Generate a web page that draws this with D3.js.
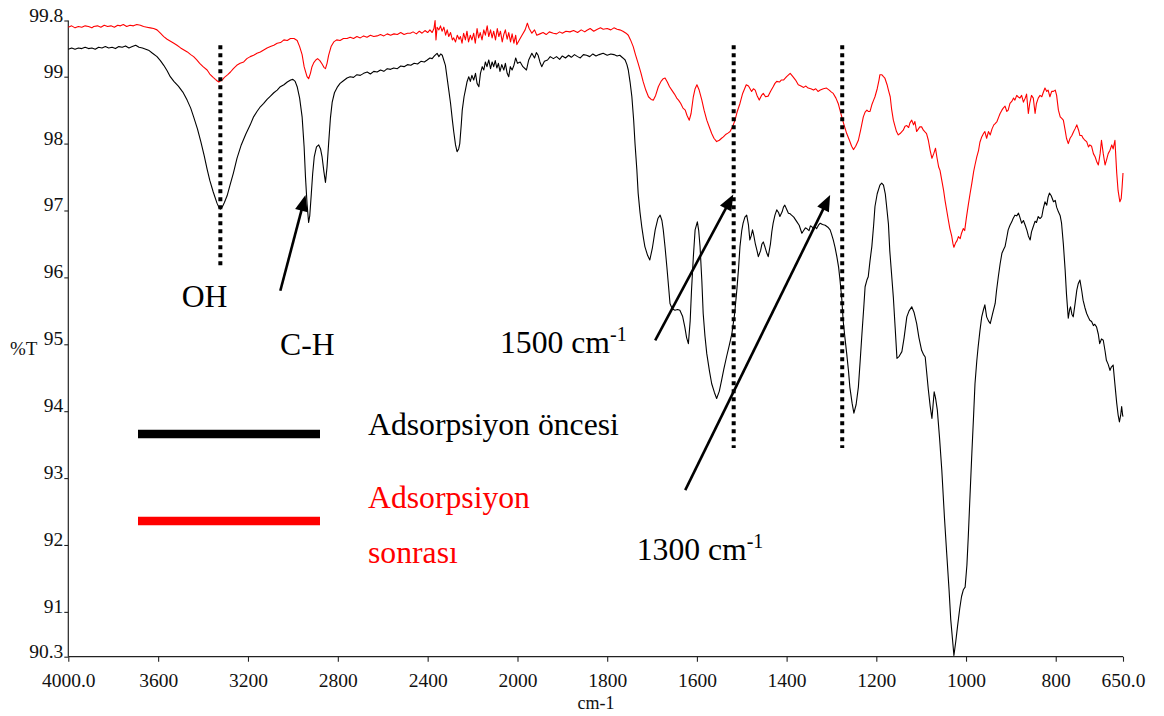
<!DOCTYPE html>
<html>
<head>
<meta charset="utf-8">
<script src="https://cdn.jsdelivr.net/npm/d3@7"></script>
<style>
  body { margin: 0; background: #fff; }
  svg { display: block; }
  text { font-family: "Liberation Serif", "Times New Roman", serif; }
</style>
</head>
<body>
<svg id="chart" width="1164" height="716"></svg>
<script>
// Abscissa: wavenumber axis with a 2x expansion below 2000 cm-1
const xBreaks = [4000, 2000, 650];
const xTickValues = [4000, 3600, 3200, 2800, 2400, 2000, 1800, 1600, 1400, 1200, 1000, 800, 650];
const xTickLabels = ["4000.0", "3600", "3200", "2800", "2400", "2000", "1800", "1600", "1400", "1200", "1000", "800", "650.0"];

// Ordinate: transmittance (%T)
const yDomain = [90.33, 99.84];
const yTickValues = [90.33, 91, 92, 93, 94, 95, 96, 97, 98, 99, 99.84];
const yTickLabels = ["90.3", "91", "92", "93", "94", "95", "96", "97", "98", "99", "99.8"];

// Spectrum before adsorption: [wavenumber, %T]
const before = [
  [4000,99.41],[3985,99.43],[3970,99.41],[3955,99.43],[3940,99.42],[3925,99.44],[3910,99.42],[3895,99.43],
  [3880,99.41],[3865,99.44],[3850,99.43],[3835,99.45],[3820,99.43],[3805,99.44],[3790,99.42],[3775,99.45],
  [3760,99.44],[3745,99.46],[3730,99.43],[3715,99.45],[3700,99.47],[3685,99.44],[3670,99.43],[3655,99.41],
  [3640,99.39],[3625,99.35],[3605,99.30],[3590,99.24],[3575,99.17],[3560,99.09],[3546,99.00],[3530,98.93],
  [3510,98.86],[3490,98.77],[3471,98.65],[3455,98.53],[3442,98.40],[3425,98.22],[3410,98.03],[3395,97.82],
  [3382,97.62],[3370,97.45],[3355,97.28],[3338,97.11],[3330,97.05],[3323,97.02],[3315,97.05],[3305,97.12],
  [3293,97.22],[3280,97.38],[3265,97.56],[3249,97.78],[3230,97.98],[3210,98.14],[3190,98.28],[3175,98.40],
  [3160,98.48],[3145,98.55],[3130,98.60],[3115,98.66],[3100,98.71],[3085,98.76],[3070,98.80],[3056,98.85],
  [3040,98.88],[3025,98.92],[3010,98.95],[3000,98.96],[2990,98.93],[2981,98.85],[2970,98.68],[2959,98.40],
  [2950,97.95],[2944,97.50],[2937,97.10],[2930,96.82],[2925,96.92],[2918,97.25],[2912,97.55],[2905,97.80],
  [2895,97.95],[2885,97.98],[2877,97.92],[2870,97.80],[2862,97.58],[2855,97.42],[2848,97.65],[2841,98.00],
  [2833,98.38],[2825,98.62],[2815,98.76],[2803,98.84],[2790,98.90],[2775,98.94],[2759,98.98],[2745,99.00],
  [2730,98.99],[2715,99.03],[2700,99.02],[2685,99.05],[2669,99.07],[2655,99.04],[2640,99.08],[2625,99.07],
  [2610,99.10],[2595,99.08],[2580,99.12],[2565,99.11],[2551,99.13],[2535,99.12],[2520,99.16],[2505,99.15],
  [2490,99.18],[2475,99.17],[2460,99.20],[2445,99.19],[2430,99.23],[2415,99.22],[2402,99.25],[2390,99.28],
  [2380,99.27],[2370,99.31],[2358,99.35],[2350,99.30],[2342,99.34],[2335,99.32],[2321,99.17],[2306,98.80],
  [2298,98.60],[2290,98.35],[2284,98.18],[2276,97.98],[2269,97.88],[2262,97.92],[2257,98.00],[2250,98.30],
  [2246,98.50],[2238,98.70],[2232,98.80],[2225,98.92],[2217,99.00],[2210,98.93],[2203,99.02],[2195,98.95],
  [2187,99.05],[2180,98.90],[2172,98.85],[2165,99.05],[2157,99.15],[2150,99.10],[2143,99.22],[2136,99.15],
  [2128,99.25],[2120,99.12],[2113,99.22],[2106,99.15],[2099,99.24],[2092,99.13],[2085,99.20],[2078,99.08],
  [2070,99.18],[2061,99.10],[2054,99.20],[2046,99.05],[2039,99.00],[2032,99.15],[2024,99.10],[2016,99.17],
  [2008,99.28],[2000,99.20],[1994,99.22],[1988,99.15],[1980,99.10],[1975,99.25],[1968,99.35],[1962,99.28],
  [1958,99.36],[1954,99.32],[1950,99.22],[1946,99.15],[1940,99.23],[1933,99.25],[1927,99.30],[1920,99.27],
  [1913,99.30],[1906,99.26],[1900,99.31],[1893,99.28],[1886,99.32],[1880,99.29],[1873,99.33],[1866,99.30],
  [1860,99.28],[1853,99.33],[1846,99.32],[1839,99.30],[1832,99.34],[1825,99.31],[1818,99.33],[1809,99.35],
  [1800,99.32],[1792,99.34],[1785,99.33],[1778,99.31],[1772,99.32],[1765,99.28],[1760,99.25],[1756,99.18],
  [1753,99.10],[1749,98.92],[1745,98.70],[1741,98.35],[1738,98.00],[1734,97.62],[1731,97.26],[1727,96.98],
  [1723,96.76],[1719,96.58],[1716,96.46],[1710,96.33],[1705,96.26],[1699,96.45],[1693,96.71],[1687,96.88],
  [1682,96.93],[1678,96.85],[1675,96.71],[1671,96.45],[1667,96.16],[1663,95.85],[1660,95.61],[1655,95.53],
  [1649,95.51],[1643,95.52],[1638,95.51],[1632,95.42],[1627,95.26],[1623,95.10],[1619,95.01],[1615,95.35],
  [1612,95.81],[1608,96.30],[1604,96.71],[1599,96.83],[1596,96.70],[1593,96.46],[1589,95.95],[1586,95.46],
  [1582,95.12],[1578,94.86],[1572,94.60],[1567,94.41],[1561,94.28],[1556,94.19],[1550,94.30],[1545,94.46],
  [1540,94.63],[1534,94.81],[1528,94.98],[1522,95.16],[1516,95.45],[1511,95.81],[1507,96.15],[1504,96.46],
  [1500,96.70],[1497,96.81],[1493,96.90],[1489,96.93],[1485,96.78],[1482,96.56],[1479,96.62],[1476,96.71],
  [1473,96.62],[1470,96.51],[1466,96.40],[1463,96.31],[1458,96.40],[1455,96.50],[1452,96.53],[1448,96.45],
  [1444,96.36],[1441,96.31],[1436,96.50],[1433,96.68],[1430,96.81],[1426,96.93],[1422,97.01],[1418,96.97],
  [1415,96.91],[1410,96.98],[1407,97.05],[1404,97.08],[1400,97.02],[1396,96.96],[1392,96.95],[1389,96.93],
  [1384,96.90],[1380,96.86],[1377,96.83],[1372,96.78],[1366,96.66],[1362,96.70],[1358,96.74],[1355,96.73],
  [1350,96.70],[1347,96.77],[1344,96.76],[1340,96.72],[1336,96.75],[1333,96.73],[1329,96.78],[1325,96.81],
  [1320,96.79],[1314,96.78],[1308,96.75],[1303,96.71],[1300,96.65],[1296,96.56],[1292,96.45],[1288,96.31],
  [1284,96.15],[1281,95.96],[1277,95.68],[1274,95.36],[1270,95.10],[1266,94.86],[1262,94.60],[1259,94.36],
  [1254,94.12],[1250,93.97],[1245,94.10],[1240,94.36],[1236,94.75],[1232,95.16],[1228,95.55],[1225,95.86],
  [1221,95.96],[1218,96.01],[1214,96.25],[1210,96.46],[1206,96.78],[1203,97.06],[1198,97.25],[1192,97.38],
  [1188,97.41],[1184,97.38],[1180,97.25],[1177,97.06],[1173,96.80],[1170,96.40],[1166,96.05],[1162,95.70],
  [1158,95.25],[1154,94.79],[1149,94.82],[1143,94.89],[1138,95.10],[1132,95.41],[1127,95.50],[1121,95.56],
  [1116,95.48],[1110,95.31],[1105,95.10],[1099,94.91],[1095,94.85],[1091,94.81],[1088,94.60],[1084,94.32],
  [1080,94.08],[1076,93.89],[1074,94.05],[1071,94.29],[1068,94.20],[1064,94.02],[1059,93.60],[1054,93.12],
  [1048,92.40],[1043,91.87],[1038,91.35],[1034,90.88],[1030,90.58],[1027,90.35],[1023,90.55],[1019,90.78],
  [1014,91.05],[1010,91.23],[1006,91.33],[1002,91.37],[998,91.70],[995,92.12],[991,92.75],[987,93.37],
  [983,93.95],[980,94.41],[976,94.75],[973,94.96],[969,95.20],[965,95.41],[961,95.52],[958,95.59],
  [954,95.41],[950,95.35],[946,95.31],[941,95.45],[935,95.61],[932,95.80],[928,96.01],[924,96.20],
  [920,96.36],[916,96.42],[913,96.46],[909,96.60],[906,96.71],[902,96.78],[898,96.83],[895,96.88],
  [891,96.93],[887,96.92],[883,96.96],[880,96.90],[876,96.81],[872,96.85],[868,96.78],[864,96.70],
  [861,96.62],[857,96.56],[854,96.68],[850,96.76],[846,96.84],[843,96.82],[839,96.91],[835,96.88],
  [831,96.91],[828,97.02],[824,97.13],[820,97.08],[817,97.20],[814,97.26],[810,97.22],[805,97.13],
  [801,97.15],[798,97.05],[794,96.98],[790,96.92],[787,96.81],[783,96.50],[779,96.11],[776,95.75],
  [772,95.39],[769,95.52],[767,95.56],[764,95.45],[761,95.41],[757,95.60],[753,95.81],[750,95.90],
  [746,95.96],[742,95.80],[739,95.66],[735,95.55],[731,95.46],[727,95.40],[724,95.36],[720,95.34],
  [716,95.28],[713,95.30],[709,95.26],[705,95.15],[702,95.01],[698,95.08],[694,95.06],[690,94.90],
  [687,94.76],[683,94.70],[679,94.61],[676,94.66],[672,94.69],[668,94.40],[664,94.12],[661,93.95],
  [658,93.84],[655,93.95],[653,94.07],[651,93.95],[650,93.92]
];

// Spectrum after adsorption: [wavenumber, %T]
const after = [
  [4000,99.74],[3985,99.76],[3970,99.73],[3955,99.75],[3940,99.74],[3925,99.76],[3910,99.75],[3895,99.73],
  [3887,99.75],[3870,99.76],[3855,99.74],[3840,99.77],[3825,99.75],[3810,99.76],[3795,99.74],[3780,99.77],
  [3768,99.76],[3755,99.78],[3740,99.75],[3725,99.77],[3710,99.76],[3695,99.78],[3679,99.77],[3665,99.75],
  [3650,99.74],[3635,99.73],[3620,99.72],[3605,99.70],[3590,99.65],[3575,99.60],[3560,99.56],[3545,99.53],
  [3530,99.50],[3516,99.47],[3500,99.43],[3485,99.40],[3470,99.37],[3455,99.33],[3442,99.30],[3428,99.25],
  [3415,99.20],[3400,99.15],[3382,99.10],[3370,99.04],[3355,98.99],[3345,98.96],[3338,98.94],[3330,98.92],
  [3322,98.94],[3315,98.95],[3305,98.99],[3290,99.03],[3278,99.07],[3265,99.12],[3250,99.17],[3235,99.20],
  [3219,99.22],[3205,99.27],[3190,99.30],[3175,99.32],[3160,99.35],[3145,99.37],[3130,99.40],[3115,99.43],
  [3100,99.45],[3085,99.47],[3070,99.50],[3055,99.51],[3040,99.55],[3025,99.54],[3011,99.57],[2995,99.57],
  [2981,99.54],[2970,99.45],[2959,99.33],[2950,99.15],[2944,99.08],[2937,99.00],[2930,98.97],[2922,99.05],
  [2915,99.15],[2907,99.21],[2898,99.25],[2890,99.27],[2880,99.24],[2870,99.19],[2862,99.14],[2855,99.12],
  [2848,99.20],[2841,99.32],[2830,99.45],[2818,99.52],[2805,99.55],[2790,99.54],[2775,99.57],[2759,99.57],
  [2745,99.59],[2730,99.57],[2715,99.60],[2700,99.58],[2685,99.61],[2670,99.59],[2655,99.62],[2640,99.60],
  [2625,99.61],[2610,99.63],[2595,99.61],[2580,99.64],[2565,99.62],[2550,99.64],[2535,99.63],[2520,99.66],
  [2505,99.63],[2490,99.65],[2477,99.65],[2465,99.67],[2450,99.64],[2437,99.68],[2425,99.65],[2412,99.69],
  [2400,99.66],[2390,99.70],[2380,99.66],[2372,99.72],[2367,99.84],[2363,99.55],[2358,99.74],[2350,99.70],
  [2343,99.76],[2336,99.68],[2328,99.74],[2320,99.62],[2313,99.70],[2306,99.60],[2298,99.66],[2290,99.55],
  [2284,99.58],[2276,99.52],[2268,99.62],[2260,99.56],[2254,99.60],[2247,99.50],[2240,99.65],[2232,99.55],
  [2225,99.68],[2218,99.52],[2210,99.62],[2203,99.55],[2195,99.65],[2188,99.50],[2180,99.72],[2173,99.58],
  [2166,99.66],[2158,99.55],[2150,99.70],[2143,99.62],[2135,99.76],[2128,99.60],[2120,99.70],[2113,99.58],
  [2106,99.68],[2098,99.55],[2090,99.72],[2083,99.60],[2076,99.68],[2068,99.52],[2061,99.63],[2054,99.70],
  [2046,99.56],[2039,99.66],[2031,99.52],[2024,99.64],[2016,99.50],[2008,99.62],[2003,99.48],[1996,99.55],
  [1990,99.62],[1983,99.70],[1978,99.80],[1974,99.72],[1968,99.65],[1962,99.70],[1957,99.62],[1950,99.64],
  [1943,99.66],[1936,99.63],[1929,99.67],[1920,99.65],[1913,99.64],[1906,99.67],[1900,99.65],[1892,99.68],
  [1883,99.67],[1875,99.69],[1866,99.66],[1858,99.70],[1850,99.67],[1846,99.69],[1838,99.72],[1830,99.68],
  [1822,99.71],[1815,99.73],[1809,99.71],[1800,99.72],[1792,99.70],[1785,99.73],[1778,99.71],[1772,99.70],
  [1765,99.68],[1758,99.65],[1753,99.62],[1748,99.55],[1742,99.45],[1737,99.33],[1731,99.20],[1725,99.06],
  [1720,98.93],[1714,98.80],[1708,98.70],[1702,98.66],[1697,98.65],[1692,98.72],[1686,98.85],[1680,98.93],
  [1675,98.97],[1671,98.98],[1666,98.92],[1661,98.85],[1656,98.80],[1650,98.74],[1645,98.68],[1641,98.65],
  [1636,98.60],[1631,98.53],[1626,98.50],[1622,98.42],[1617,98.35],[1613,98.45],[1608,98.70],[1604,98.82],
  [1600,98.88],[1595,98.80],[1589,98.65],[1584,98.50],[1578,98.35],[1572,98.24],[1567,98.15],[1562,98.08],
  [1556,98.03],[1550,98.05],[1545,98.08],[1541,98.10],[1535,98.14],[1530,98.16],[1526,98.18],[1520,98.26],
  [1515,98.35],[1510,98.48],[1504,98.60],[1498,98.75],[1490,98.88],[1485,98.86],[1478,98.78],[1474,98.82],
  [1470,98.80],[1466,98.72],[1461,98.65],[1456,98.72],[1452,98.75],[1447,98.70],[1441,98.71],[1436,98.78],
  [1430,98.85],[1426,98.90],[1422,98.93],[1416,98.92],[1412,98.95],[1407,98.95],[1400,99.00],[1392,99.05],
  [1386,99.00],[1380,98.95],[1374,98.88],[1368,98.86],[1362,98.84],[1357,98.86],[1352,98.83],[1346,98.82],
  [1340,98.80],[1335,98.82],[1330,98.78],[1325,98.80],[1318,98.82],[1311,98.83],[1305,98.80],[1300,98.77],
  [1296,98.75],[1290,98.68],[1285,98.60],[1281,98.50],[1277,98.40],[1272,98.28],[1266,98.15],[1260,98.05],
  [1255,97.96],[1251,97.91],[1246,97.96],[1240,98.05],[1235,98.20],[1229,98.40],[1225,98.47],[1221,98.50],
  [1218,98.48],[1214,98.48],[1210,98.58],[1206,98.65],[1203,98.70],[1198,98.82],[1194,98.95],[1192,99.03],
  [1188,99.03],[1184,99.00],[1181,98.98],[1176,98.88],[1173,98.80],[1169,98.70],[1166,98.52],[1162,98.35],
  [1158,98.25],[1155,98.18],[1151,98.13],[1147,98.15],[1143,98.18],[1140,98.20],[1136,98.26],[1132,98.27],
  [1128,98.24],[1125,98.31],[1121,98.35],[1117,98.28],[1114,98.33],[1110,98.18],[1106,98.22],[1103,98.25],
  [1099,98.25],[1095,98.20],[1091,98.17],[1088,98.15],[1084,98.05],[1080,97.90],[1076,97.78],[1072,97.85],
  [1068,97.93],[1065,97.80],[1061,97.65],[1058,97.60],[1054,97.45],[1050,97.30],[1047,97.16],[1043,97.00],
  [1040,96.88],[1036,96.73],[1032,96.62],[1029,96.50],[1027,96.45],[1023,96.52],[1020,96.55],[1017,96.61],
  [1013,96.58],[1010,96.66],[1006,96.73],[1003,96.70],[999,96.90],[995,97.08],[991,97.25],[987,97.41],
  [983,97.58],[980,97.68],[976,97.80],[972,97.90],[969,98.02],[965,98.10],[961,98.15],[958,98.18],
  [954,98.08],[950,98.18],[946,98.13],[942,98.22],[938,98.28],[935,98.30],[931,98.33],[927,98.40],
  [924,98.45],[920,98.50],[917,98.53],[913,98.56],[909,98.48],[906,98.50],[902,98.60],[898,98.63],
  [894,98.68],[891,98.65],[887,98.72],[884,98.70],[880,98.68],[876,98.72],[872,98.62],[868,98.68],
  [865,98.74],[861,98.45],[858,98.60],[854,98.72],[850,98.68],[846,98.45],[843,98.60],[839,98.68],
  [835,98.72],[831,98.70],[828,98.76],[824,98.83],[820,98.78],[817,98.80],[813,98.70],[809,98.78],
  [805,98.78],[801,98.80],[798,98.72],[794,98.50],[790,98.40],[787,98.38],[783,98.35],[779,98.20],
  [776,98.08],[772,98.00],[768,98.08],[764,98.12],[760,98.18],[757,98.22],[753,98.28],[749,98.20],
  [746,98.12],[742,98.12],[739,98.08],[735,98.05],[731,98.03],[727,97.95],[724,97.98],[720,97.96],
  [716,97.85],[712,97.80],[708,97.72],[705,97.68],[701,97.85],[698,98.05],[694,97.85],[690,97.68],
  [687,97.75],[683,97.85],[679,97.90],[675,97.98],[672,97.92],[668,98.05],[664,97.56],[661,97.30],
  [657,97.13],[654,97.18],[652,97.35],[650,97.56]
];

// Dotted guide lines: wavenumber, top and bottom in %T
const guideWn = [3323, 1518, 1276];
const guideTop = [99.47, 99.47, 99.47];
const guideBottom = [96.18, 93.45, 93.45];

// Annotation arrows: tail and tip as [wavenumber, %T]
const arrowTail = [[3056, 95.80], [1693, 95.06], [1626, 92.82]];
const arrowTip = [[2944, 97.23], [1519, 97.24], [1303, 97.23]];

const svg = d3.select("#chart");

const x = d3.scaleLinear().domain(xBreaks).range([68.3, 517.5, 1123]);
const y = d3.scaleLinear().domain(yDomain).range([656.7, 20.5]);

// Axes
const xAxis = d3.axisBottom(x)
  .tickValues(xTickValues)
  .tickFormat((d, i) => xTickLabels[i])
  .tickSize(5)
  .tickPadding(4);
const yAxis = d3.axisLeft(y)
  .tickValues(yTickValues)
  .tickFormat((d, i) => yTickLabels[i])
  .tickSize(4)
  .tickPadding(4);

const gx = svg.append("g").attr("transform", "translate(0,656.7)").call(xAxis);
gx.select(".domain").attr("d", `M${x(4000)},0H${x(650)}`).attr("stroke", "#222").attr("stroke-width", 1.2);
gx.selectAll(".tick line").attr("stroke", "#222").attr("stroke-width", 1.1);
gx.selectAll(".tick text")
  .attr("font-family", "'Liberation Serif', 'Times New Roman', serif")
  .attr("font-size", 19.5).attr("fill", "#111")
  .attr("dy", null).attr("y", 30);

const gy = svg.append("g").attr("transform", "translate(68.3,0)").call(yAxis);
gy.select(".domain").attr("d", `M0,${y(yDomain[1])}V${y(yDomain[0])}`).attr("stroke", "#222").attr("stroke-width", 1.2);
gy.selectAll(".tick line").attr("stroke", "#222").attr("stroke-width", 1.1);
gy.selectAll(".tick text")
  .attr("font-family", "'Liberation Serif', 'Times New Roman', serif")
  .attr("font-size", 19.5).attr("fill", "#111")
  .attr("dy", null).attr("x", -5).attr("y", 0.5);

// Axis titles
svg.append("text").attr("x", 10).attr("y", 355).attr("font-size", 19).attr("fill", "#111").text("%T");
svg.append("text").attr("x", 596).attr("y", 709).attr("text-anchor", "middle").attr("font-size", 18).attr("fill", "#111").text("cm-1");

// Spectra
const line = d3.line().x(d => x(d[0])).y(d => y(d[1]));
svg.append("path").datum(after).attr("d", line)
  .attr("fill", "none").attr("stroke", "#ff0000").attr("stroke-width", 1.1).attr("stroke-linejoin", "round");
svg.append("path").datum(before).attr("d", line)
  .attr("fill", "none").attr("stroke", "#000").attr("stroke-width", 1.1).attr("stroke-linejoin", "round");

// Dotted guides
svg.append("g").selectAll("line").data(guideWn).join("line")
  .attr("x1", d => x(d)).attr("x2", d => x(d))
  .attr("y1", (d, i) => y(guideTop[i])).attr("y2", (d, i) => y(guideBottom[i]))
  .attr("stroke", "#000").attr("stroke-width", 4).attr("stroke-dasharray", "4,4");

// Arrows with filled heads
const arrows = svg.append("g");
arrowTail.forEach((t, i) => {
  const x0 = x(t[0]), y0 = y(t[1]);
  const x1 = x(arrowTip[i][0]), y1 = y(arrowTip[i][1]);
  const len = Math.hypot(x1 - x0, y1 - y0);
  const ux = (x1 - x0) / len, uy = (y1 - y0) / len;
  const head = 16, half = 6.5;
  const bx = x1 - ux * head, by = y1 - uy * head;
  arrows.append("line")
    .attr("x1", x0).attr("y1", y0).attr("x2", bx + ux * 2).attr("y2", by + uy * 2)
    .attr("stroke", "#000").attr("stroke-width", 2.6);
  arrows.append("path")
    .attr("d", `M${x1},${y1}L${bx - uy * half},${by + ux * half}L${bx + uy * half},${by - ux * half}Z`)
    .attr("fill", "#000");
});

// Band labels
const big = 31.7;
svg.append("text").attr("x", 181.7).attr("y", 306.7).attr("font-size", big).text("OH");
svg.append("text").attr("x", 280).attr("y", 355).attr("font-size", big).text("C-H");

function wavenumberLabel(xp, yp, num) {
  const t = svg.append("text").attr("x", xp).attr("y", yp).attr("font-size", big);
  t.append("tspan").text(num + " cm");
  t.append("tspan").attr("font-size", 20).attr("dy", -12).text("-1");
}
wavenumberLabel(500, 353, "1500");
wavenumberLabel(636.7, 560, "1300");

// Legend
svg.append("line").attr("x1", 138).attr("x2", 320).attr("y1", 434).attr("y2", 434)
  .attr("stroke", "#000").attr("stroke-width", 8.5);
svg.append("line").attr("x1", 138).attr("x2", 320).attr("y1", 521).attr("y2", 521)
  .attr("stroke", "#ff0000").attr("stroke-width", 8.5);
svg.append("text").attr("x", 368).attr("y", 435).attr("font-size", big).attr("fill", "#000").text("Adsorpsiyon öncesi");
svg.append("text").attr("x", 368).attr("y", 508.3).attr("font-size", big).attr("fill", "#ff0000").text("Adsorpsiyon");
svg.append("text").attr("x", 368).attr("y", 563.3).attr("font-size", big).attr("fill", "#ff0000").text("sonrası");
</script>
</body>
</html>
